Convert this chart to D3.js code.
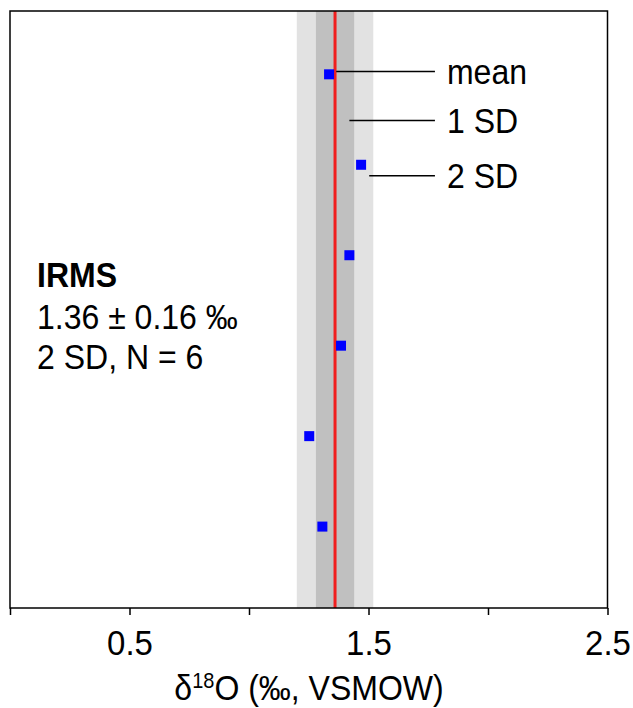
<!DOCTYPE html>
<html>
<head>
<meta charset="utf-8">
<script src="https://cdn.jsdelivr.net/npm/d3@7"></script>
<style>
  body { margin: 0; background: #fff; }
  svg { display: block; font-family: "Liberation Sans", Arial, sans-serif; }
</style>
</head>
<body>
<div id="chart"></div>
<script>
// samples, top to bottom
const samples = [1, 2, 3, 4, 5, 6];
const d18O = [1.335, 1.469, 1.420, 1.385, 1.252, 1.307];

// summary stats
const meanValue = 1.36;
const twoSD = 0.16;

// x axis
const xTicks = [0, 0.5, 1, 1.5, 2, 2.5];
const xTickLabels = ['', '0.5', '', '1.5', '', '2.5'];

// leader labels (value where the line starts, row it sits on)
const legendLabels = ['mean', '1 SD', '2 SD'];
const legendFrom = [1.365, 1.42, 1.503];
const legendRow = [0.97, 1.51, 2.12];
const legendTo = 1.778;

const width = 633;
const height = 708;
const stretch = 1.09; // text in the original is a bit taller than wide

const x = d3.scaleLinear().domain([0, 2.5]).range([10, 607.5]);
const y = d3.scaleLinear().domain([0.3, 6.9]).range([11, 608]);

const svg = d3.select('#chart')
    .append('svg')
    .attr('width', width)
    .attr('height', height);

// 2 SD band
svg.append('rect')
    .attr('x', x(meanValue - twoSD))
    .attr('y', y(0.3))
    .attr('width', x(meanValue + twoSD) - x(meanValue - twoSD))
    .attr('height', y(6.9) - y(0.3))
    .attr('fill', '#e2e2e2');

// 1 SD band
svg.append('rect')
    .attr('x', x(meanValue - twoSD / 2))
    .attr('y', y(0.3))
    .attr('width', x(meanValue + twoSD / 2) - x(meanValue - twoSD / 2))
    .attr('height', y(6.9) - y(0.3))
    .attr('fill', '#c0c0c0');

// mean line
svg.append('line')
    .attr('x1', x(meanValue)).attr('x2', x(meanValue))
    .attr('y1', y(0.3)).attr('y2', y(6.9))
    .attr('stroke', '#f01e1e')
    .attr('stroke-width', 3);

// leader lines + labels
const leg = svg.append('g')
    .selectAll('g')
    .data(legendLabels)
    .enter()
    .append('g');

leg.append('line')
    .attr('x1', (d, i) => x(legendFrom[i]))
    .attr('x2', x(legendTo))
    .attr('y1', (d, i) => y(legendRow[i]))
    .attr('y2', (d, i) => y(legendRow[i]))
    .attr('stroke', '#000')
    .attr('stroke-width', 1.5);

leg.append('text')
    .attr('transform', (d, i) => `translate(${x(legendTo) + 12},${y(legendRow[i])}) scale(1,${stretch})`)
    .attr('dy', '0.36em')
    .attr('font-size', 32)
    .text(d => d);

// sample points
svg.append('g')
    .selectAll('rect')
    .data(samples)
    .enter()
    .append('rect')
    .attr('x', (d, i) => x(d18O[i]) - 5)
    .attr('y', d => y(d) - 5)
    .attr('width', 10)
    .attr('height', 10)
    .attr('fill', '#0000ff');

// frame
svg.append('rect')
    .attr('x', x(0))
    .attr('y', y(0.3))
    .attr('width', x(2.5) - x(0))
    .attr('height', y(6.9) - y(0.3))
    .attr('fill', 'none')
    .attr('stroke', '#000')
    .attr('stroke-width', 1.5);

// x axis
const xAxis = svg.append('g')
    .attr('transform', `translate(0,${y(6.9)})`)
    .call(d3.axisBottom(x)
        .tickValues(xTicks)
        .tickSize(7)
        .tickPadding(13)
        .tickFormat((d, i) => xTickLabels[i]));

xAxis.select('.domain').remove();
xAxis.selectAll('line').attr('stroke-width', 1.5);
xAxis.selectAll('text')
    .attr('transform', `scale(1,${stretch})`)
    .attr('font-size', 33)
    .attr('font-family', '"Liberation Sans", Arial, sans-serif')
    .attr('fill', '#000');

// axis title
const title = svg.append('text')
    .attr('transform', `translate(309,700) scale(1,${stretch})`)
    .attr('text-anchor', 'middle')
    .attr('font-size', 32);
title.append('tspan').text('δ');
title.append('tspan').attr('font-size', 20).attr('dy', -11).text('18');
title.append('tspan').attr('dy', 11).text('O (‰, VSMOW)');

// stats block
const statLines = ['IRMS', '1.36 ± 0.16 ‰', '2 SD, N = 6'];
const statY = [287, 329, 369];
svg.append('g')
    .selectAll('text')
    .data(statLines)
    .enter()
    .append('text')
    .attr('transform', (d, i) => `translate(37,${statY[i]}) scale(1,${stretch})`)
    .attr('font-size', 32)
    .attr('font-weight', (d, i) => i === 0 ? 'bold' : 'normal')
    .text(d => d);
</script>
</body>
</html>
